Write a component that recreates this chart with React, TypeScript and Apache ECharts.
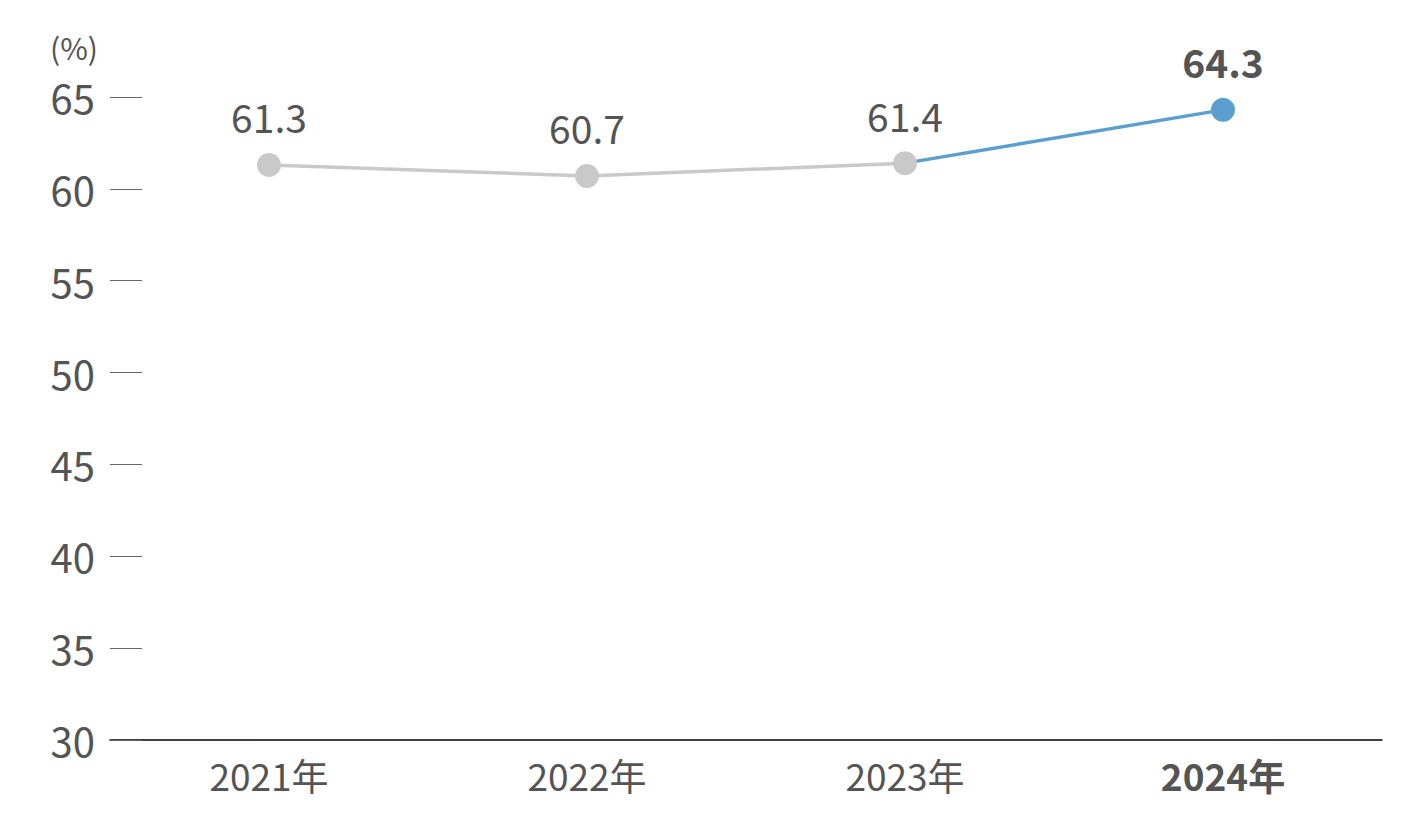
import React, { useEffect, useRef } from "react";
import * as echarts from "echarts";

const categories = ["2021年", "2022年", "2023年", "2024年"];
const pastValues: (number | string)[] = [61.3, 60.7, 61.4, "-"];
const latestValues: (number | string)[] = ["-", "-", 61.4, 64.3];
const yTicks = [30, 35, 40, 45, 50, 55, 60, 65];

const FONT = "'Noto Sans CJK JP', 'Noto Sans', sans-serif";
const TEXT = "#545454";

export default function App() {
  const ref = useRef<HTMLDivElement>(null);
  useEffect(() => {
    if (!ref.current) return;
    const chart = echarts.init(ref.current, undefined, { renderer: "svg" });
    chart.setOption({
      animation: false,
      grid: { left: 102, right: 37, top: 89, bottom: 83, containLabel: false },
      graphic: [
        {
          type: "text",
          left: 42,
          top: 24,
          style: { text: "(%)", fontSize: 30, fill: TEXT, fontFamily: FONT },
        },
      ],
      xAxis: {
        type: "category",
        data: categories,
        boundaryGap: true,
        axisLine: { show: true, lineStyle: { color: "#000", width: 1.5 } },
        axisTick: { show: false },
        axisLabel: {
          margin: 16,
          fontSize: 37,
          color: TEXT,
          fontFamily: FONT,
          formatter: (v: string, i: number) =>
            i === categories.length - 1 ? `{b|${v}}` : v,
          rich: {
            b: { fontSize: 37, fontWeight: "bold", color: TEXT, fontFamily: FONT },
          },
        },
      },
      yAxis: {
        type: "value",
        min: yTicks[0],
        max: yTicks[yTicks.length - 1],
        interval: 5,
        axisLine: { show: false },
        axisTick: { show: true, inside: true, length: 32, lineStyle: { color: "#666", width: 1 } },
        splitLine: { show: false },
        axisLabel: { margin: 15, fontSize: 40, color: TEXT, fontFamily: FONT },
      },
      series: [
        {
          type: "line",
          data: latestValues,
          z: 2,
          lineStyle: { color: "#5b9fd0", width: 3.5 },
          symbol: "circle",
          symbolSize: (_v: any, p: any) => (p.dataIndex === 3 ? 24 : 0),
          itemStyle: { color: "#5b9fd0" },
          label: {
            show: true,
            position: "top",
            distance: 17,
            fontSize: 39,
            fontWeight: "bold",
            color: TEXT,
            fontFamily: FONT,
            formatter: (p: any) => (p.dataIndex === 3 ? String(p.value) : ""),
          },
        },
        {
          type: "line",
          data: pastValues,
          z: 3,
          lineStyle: { color: "#c9c9c9", width: 3.5 },
          symbol: "circle",
          symbolSize: 24,
          itemStyle: { color: "#c9c9c9" },
          label: {
            show: true,
            position: "top",
            distance: 17,
            fontSize: 39,
            color: TEXT,
            fontFamily: FONT,
          },
        },
      ],
    });
    return () => chart.dispose();
  }, []);
  return <div ref={ref} style={{ width: 1411, height: 815 }} />;
}
